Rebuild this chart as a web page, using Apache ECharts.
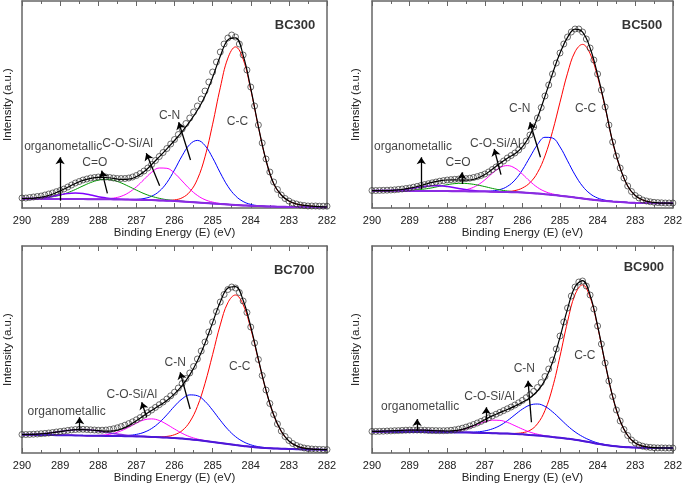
<!DOCTYPE html>
<html><head><meta charset="utf-8">
<script src="https://cdn.jsdelivr.net/npm/echarts/dist/echarts.min.js"></script>
<style>html,body{margin:0;padding:0;background:#fff}#c{width:685px;height:488px}</style>
</head><body><div id="c"></div>
<script>
// ---------------- DATA ----------------
const energyFit = [290.0,289.8,289.6,289.4,289.2,289.0,288.8,288.6,288.4,288.2,288.0,287.8,287.6,287.4,287.2,287.0,286.8,286.6,286.4,286.2,286.0,285.8,285.6,285.4,285.2,285.0,284.8,284.6,284.4,284.2,284.0,283.8,283.6,283.4,283.2,283.0,282.8,282.6,282.4,282.2,282.0];
const energyMeas = [290.0,289.9,289.8,289.7,289.6,289.5,289.4,289.3,289.2,289.1,289.0,288.9,288.8,288.7,288.6,288.5,288.4,288.3,288.2,288.1,288.0,287.9,287.8,287.7,287.6,287.5,287.4,287.3,287.2,287.1,287.0,286.9,286.8,286.7,286.6,286.5,286.4,286.3,286.2,286.1,286.0,285.9,285.8,285.7,285.6,285.5,285.4,285.3,285.2,285.1,285.0,284.9,284.8,284.7,284.6,284.5,284.4,284.3,284.2,284.1,284.0,283.9,283.8,283.7,283.6,283.5,283.4,283.3,283.2,283.1,283.0,282.9,282.8,282.7,282.6,282.5,282.4,282.3,282.2,282.1,282.0];
const panelTitles = ['BC300','BC500','BC700','BC900'];

// BC300
const p1Meas = [10,10,10.5,11,11.5,12,13,14,15,16.3,17.5,19,21,23,25,26.5,28,29,30,30.5,31,31,31,30.5,30,29.5,29.5,29.5,30,31,32.5,34.5,37,40,43.5,47.5,51.5,55.5,59.5,64,68.5,73.5,79,84.5,90,96,102,109,117,126,136,146,156,164,170,173,171,164,153,138,121,102,83,65,49,36,26,18.5,13,9.5,7,5,4,3,2.5,2,2,2,1.8,1.8,1.8];
const p1Env = [9.5,9.6,10.3,11.5,13.8,17.0,20.8,24.5,27.6,29.6,30.6,30.5,29.6,28.6,28.8,31.2,36.2,43.4,51.2,59.2,67.5,76.4,86.4,97.7,111.8,130.7,151.7,168.1,170.2,152.8,119.7,81.5,47.8,24.5,13,7,4,2.6,1.8,1.3,1.0];
const p1Base = [9.3,9.2,9.2,9.1,9.1,9.0,9.0,8.9,8.9,8.8,8.7,8.7,8.6,8.5,8.4,8.3,8.1,7.9,7.6,7.3,7.0,6.6,6.1,5.6,5.1,4.6,4.1,3.6,3.1,2.6,2.2,1.9,1.6,1.4,1.2,1.1,1.0,0.9,0.9,0.8,0.8];
const p1CC = [9.3,9.2,9.2,9.1,9.1,9.0,9.0,8.9,8.9,8.8,8.7,8.7,8.6,8.5,8.4,8.3,8.1,7.9,7.7,7.6,8.1,10.2,16.1,28.7,51.2,83.8,120.2,149.9,161.1,148.9,118.3,81.1,47.7,24.5,13,7,4,2.6,1.8,1.3,1.0];
const p1CN = [9.3,9.2,9.2,9.1,9.1,9.0,9.0,8.9,8.9,8.8,8.7,8.7,8.6,8.5,8.5,8.7,9.5,11.8,16.7,25.4,38.1,52.2,63.5,67.6,62.5,50.2,35.2,21.7,12.2,6.5,3.6,2.3,1.7,1.4,1.2,1.1,1.0,0.9,0.9,0.8,0.8];
const p1COSi = [9.3,9.2,9.2,9.1,9.1,9.0,9.0,8.9,8.9,8.8,8.8,9.1,9.9,11.7,15.4,21.2,28.5,35.7,40.0,39.7,34.8,27.0,19.0,12.6,8.3,5.9,4.5,3.7,3.1,2.6,2.2,1.9,1.6,1.4,1.2,1.1,1.0,0.9,0.9,0.8,0.8];
const p1CO = [9.4,9.4,9.7,10.1,11.2,12.8,15.3,18.5,22.1,25.4,27.8,28.7,27.7,25.1,21.6,17.9,14.4,11.7,9.7,8.3,7.5,6.8,6.2,5.6,5.1,4.6,4.1,3.6,3.1,2.6,2.2,1.9,1.6,1.4,1.2,1.1,1.0,0.9,0.9,0.8,0.8];
const p1Org = [9.4,9.4,9.8,10.5,11.7,13.2,14.5,14.9,14.4,13.0,11.3,10.1,9.2,8.7,8.5,8.3,8.1,7.9,7.6,7.3,7.0,6.6,6.1,5.6,5.1,4.6,4.1,3.6,3.1,2.6,2.2,1.9,1.6,1.4,1.2,1.1,1.0,0.9,0.9,0.8,0.8];

// BC500
const p2Meas = [17.5,17.5,17.6,17.7,17.8,18,18.2,18.6,19,19.5,20,20.8,21.6,22.5,23.4,24.3,25.2,26,26.8,27.4,28,28.4,28.7,28.9,29.1,29.4,29.8,30.5,31.4,32.6,34,36,38.5,41,44,47,50,52.5,55,58,62,67,73,81,90,100.5,112,123,134,145,155,164,171,176,179,179,176,169,160,148,134,118,101,83,66,52,40,30,22,16.5,12.5,10,8,7,6.2,5.7,5.4,5.2,5,5,5];
const p2Env = [17.3,17.4,17.4,17.8,18.5,19.8,21.5,23.6,25.6,27.2,28.0,28.1,27.9,28.0,29.7,33.4,38.8,44.6,49.8,54.3,61.2,72.8,90.2,111.7,134.3,154.9,170.6,178.8,175.8,160.0,133.4,101.3,66.2,40,22,12.5,8,6,5.2,4.9,4.7];
const p2Base = [17.3,17.3,17.2,17.2,17.1,17.1,17.0,17.0,16.9,16.9,16.9,16.8,16.7,16.6,16.6,16.5,16.3,16.1,15.9,15.7,15.5,15.1,14.5,13.8,13.1,12.3,11.4,10.5,9.6,8.6,7.7,7.0,6.4,5.9,5.5,5.2,5.0,4.9,4.8,4.7,4.7];
const p2CC = [17.3,17.3,17.2,17.2,17.1,17.1,17.0,17.0,16.9,16.9,16.9,16.8,16.7,16.6,16.6,16.5,16.3,16.1,16.5,17.4,20.0,25.3,35.3,52.1,76.4,105.8,134.8,156.2,163.6,154.3,131.1,100.5,66,40,22,12.5,8,6,5.2,4.9,4.7];
const p2CN = [17.3,17.3,17.2,17.2,17.1,17.1,17.0,17.0,16.9,16.9,16.9,16.8,16.7,16.6,16.7,16.7,17.1,18.4,21.6,27.9,38.1,50.9,63.3,70.7,70.0,61.1,47.2,33.1,21.8,14.3,10.0,7.8,6.6,5.9,5.5,5.2,5.0,4.9,4.8,4.7,4.7];
const p2COSi = [17.3,17.3,17.2,17.2,17.1,17.1,17.0,17.0,16.9,16.9,16.9,17.1,17.7,19.3,22.7,28.1,34.7,40.3,42.4,39.9,33.9,26.7,20.6,16.5,14.1,12.6,11.4,10.5,9.6,8.6,7.7,7.0,6.4,5.9,5.5,5.2,5.0,4.9,4.8,4.7,4.7];
const p2CO = [17.3,17.3,17.2,17.3,17.3,17.6,18.1,19.0,20.2,21.8,23.3,24.4,24.7,24.2,23.0,21.4,19.6,18.1,17.0,16.2,15.7,15.2,14.5,13.8,13.1,12.3,11.4,10.5,9.6,8.6,7.7,7.0,6.4,5.9,5.5,5.2,5.0,4.9,4.8,4.7,4.7];
const p2Org = [17.3,17.4,17.4,17.7,18.3,19.3,20.4,21.6,22.3,22.3,21.5,20.2,18.9,17.8,17.1,16.7,16.3,16.1,15.9,15.7,15.5,15.1,14.5,13.8,13.1,12.3,11.4,10.5,9.6,8.6,7.7,7.0,6.4,5.9,5.5,5.2,5.0,4.9,4.8,4.7,4.7];

// BC700
const p3Meas = [18.5,18.5,18.6,18.8,19,19.3,19.6,20,20.5,21,21.5,22,22.6,23.1,23.5,23.7,23.7,23.5,23.2,23,22.8,22.8,23,23.5,24.2,25.2,26.4,27.8,29.4,31.2,33.2,35.4,37.8,40.3,43,45.6,48.3,51,54,57.2,60.8,65,69.5,74.5,80,86.5,94,102,111,121,131,141.5,151,158.5,163.5,166,165,160.5,152,140.5,126,110,93.5,77.5,63,49.5,38.5,29,22,16.5,12.5,9.5,7.5,6,5,4.4,4,3.8,3.6,3.5,3.4];
const p3Env = [18.5,18.6,18.9,19.5,20.4,21.4,22.5,23.3,23.4,23.0,22.4,21.8,22.1,24.0,27.4,32.2,37.6,42.6,47.5,52.6,59.1,67.4,78.1,92.0,109.7,130.4,150.9,164.9,166.4,152.7,126.3,93.8,62.9,38.2,21.7,12.0,7.1,4.8,3.9,3.5,3.3];
const p3Base = [18.3,18.2,18.1,18.0,17.9,17.8,17.7,17.6,17.4,17.3,17.2,17.1,17.0,16.9,16.8,16.6,16.4,16.1,15.8,15.4,15.0,14.4,13.7,12.9,12.0,11.0,10.0,9.0,8.0,7.1,6.2,5.5,5.0,4.6,4.3,4.0,3.8,3.6,3.5,3.4,3.3];
const p3CC = [18.3,18.2,18.1,18.0,17.9,17.8,17.7,17.6,17.4,17.3,17.2,17.1,17.0,16.9,16.8,16.6,16.4,16.1,16.2,16.6,18.3,22.4,31.1,46.5,69.6,98.5,128.1,150.3,158.0,148.4,124.3,93.0,62.6,38.2,21.7,12.0,7.1,4.8,3.9,3.5,3.3];
const p3CN = [18.3,18.2,18.1,18.0,17.9,17.8,17.7,17.6,17.4,17.3,17.2,17.1,17.0,17.2,17.6,18.6,20.7,24.5,30.4,38.2,46.8,54.1,58.1,57.3,51.7,42.8,32.8,23.6,16.4,11.4,8.2,6.3,5.3,4.6,4.3,4.0,3.8,3.6,3.5,3.4,3.3];
const p3COSi = [18.3,18.2,18.1,18.0,17.9,17.8,17.7,17.6,17.4,17.3,17.6,18.2,19.6,22.2,25.8,29.8,33.1,34.1,32.5,28.6,24.0,19.7,16.3,14.0,12.4,11.1,10.0,9.0,8.0,7.1,6.2,5.5,5.0,4.6,4.3,4.0,3.8,3.6,3.5,3.4,3.3];
const p3Org = [18.5,18.6,18.9,19.5,20.4,21.4,22.5,23.3,23.4,23.0,22.0,20.7,19.5,18.4,17.6,17.0,16.6,16.1,15.8,15.4,15.0,14.4,13.7,12.9,12.0,11.0,10.0,9.0,8.0,7.1,6.2,5.5,5.0,4.6,4.3,4.0,3.8,3.6,3.5,3.4,3.3];

// BC900
const p4Meas = [21.6,21.6,21.7,21.8,22,22.1,22.3,22.4,22.6,22.8,22.9,23,23,22.9,22.8,22.6,22.5,22.4,22.3,22.3,22.4,22.7,23.2,23.9,24.8,25.9,27.1,28.5,30,31.6,33.3,35.1,37,38.8,40.6,42.4,44.2,46,48,50.2,52.6,55.3,58.3,61.6,65.5,70.5,76.5,84,93,104,117,131,145,157,166,171,172,167,158,144,127,109,90,72,56.5,43,32,23.5,17.5,13,10,8,6.8,6,5.6,5.3,5.1,5.1,5,5,5];
const p4Env = [21.6,21.7,22.0,22.3,22.6,22.9,22.9,22.8,22.4,22.2,22.0,22.4,23.7,26.1,29.3,33.3,37.1,40.4,43.5,46.9,50.7,55.2,62.0,72.8,90.7,115.9,144.2,166.2,172.4,157.9,127.1,90.0,56.4,32.0,17.5,9.9,6.8,5.6,5.1,5.0,5.0];
const p4Base = [21.3,21.2,21.2,21.1,21.0,21.0,20.9,20.9,20.8,20.8,20.7,20.6,20.5,20.4,20.2,20.0,19.8,19.6,19.4,19.1,18.7,18.1,17.5,16.8,16.0,15.2,14.3,13.3,12.1,10.7,9.2,8.0,7.0,6.3,5.8,5.4,5.2,5.1,5.0,5.0,5.0];
const p4CC = [21.3,21.2,21.2,21.1,21.0,21.0,20.9,20.9,20.8,20.8,20.7,20.6,20.5,20.4,20.2,20.0,19.8,19.6,19.4,19.6,20.3,22.6,29.2,42.5,65.3,96.8,131.3,158.4,168.1,155.8,126.2,89.6,56.3,32.0,17.5,9.9,6.8,5.6,5.1,5.0,5.0];
const p4CN = [21.3,21.2,21.2,21.1,21.0,21.0,20.9,20.9,20.8,20.8,20.7,20.6,20.6,20.8,21.1,22.1,24.1,27.4,32.3,38.2,43.9,47.9,49.0,46.6,41.2,34.3,27.2,21.1,16.4,12.8,10.1,8.4,7.1,6.3,5.8,5.4,5.2,5.1,5.0,5.0,5.0];
const p4COSi = [21.3,21.2,21.2,21.1,21.0,21.0,20.9,20.9,20.8,21.0,21.2,21.9,23.3,25.6,28.4,31.2,32.8,32.6,30.6,27.3,23.9,20.9,18.8,17.3,16.2,15.2,14.3,13.3,12.1,10.7,9.2,8.0,7.0,6.3,5.8,5.4,5.2,5.1,5.0,5.0,5.0];
const p4Org = [21.6,21.7,22.0,22.3,22.6,22.9,22.9,22.8,22.4,22.0,21.5,21.1,20.8,20.5,20.2,20.0,19.8,19.6,19.4,19.1,18.7,18.1,17.5,16.8,16.0,15.2,14.3,13.3,12.1,10.7,9.2,8.0,7.0,6.3,5.8,5.4,5.2,5.1,5.0,5.0,5.0];

// annotation labels: [text, E, intensity] and arrows [E1, I1, E2, I2]
const p1Labels = [['organometallic',288.92,61.7],['C=O',288.09,45.7],['C-O-Si/Al',287.23,64.7],['C-N',286.13,92.3],['C-C',284.35,86.3]];
const p1Arrows = [[289.0,7.3,289.0,50.7],[287.76,14.7,287.91,37.3],[286.39,22.3,286.74,54.7],[285.58,48,285.89,85.7]];
const p2Labels = [['organometallic',288.91,61.7],['C=O',287.71,45],['C-O-Si/Al',286.72,64.7],['C-N',286.07,99],['C-C',284.32,99]];
const p2Arrows = [[288.69,19,288.69,50.7],[287.61,24,287.61,35.7],[286.57,33.3,286.75,59],[285.52,50.7,285.8,85.7]];
const p3Labels = [['organometallic',288.83,41.7],['C-O-Si/Al',287.12,58.3],['C-N',285.98,90],['C-C',284.29,86.3]];
const p3Arrows = [[288.49,22.3,288.49,35.7],[286.73,35.7,286.86,50.7],[285.59,44,285.85,80.7]];
const p4Labels = [['organometallic',288.72,46.7],['C-O-Si/Al',286.87,56.3],['C-N',285.95,84],['C-C',284.34,97.3]];
const p4Arrows = [[288.8,22.3,288.8,34],[286.96,30.7,286.96,45.7],[285.76,30.7,285.85,72.3]];
const titlePos = [[282.84,182.3],[282.82,182.3],[282.86,182.3],[282.77,185.7]];

// ---------------- CHART ----------------
const FONT = '"Liberation Sans", Arial, sans-serif';
const FRAME = '#666';
const gridPos = [{left:22,top:1},{left:372,top:1},{left:22,top:246},{left:372,top:246}];
const baseColors = ['#8a2be2','#8a2be2','#4b18d8','#4b18d8'];
const orgColors = ['#8000ff','#8000ff','#8a2be2','#8a2be2'];
const panels = [
  {meas:p1Meas, env:p1Env, base:p1Base, cc:p1CC, cn:p1CN, cosi:p1COSi, co:p1CO, org:p1Org, labels:p1Labels, arrows:p1Arrows},
  {meas:p2Meas, env:p2Env, base:p2Base, cc:p2CC, cn:p2CN, cosi:p2COSi, co:p2CO, org:p2Org, labels:p2Labels, arrows:p2Arrows},
  {meas:p3Meas, env:p3Env, base:p3Base, cc:p3CC, cn:p3CN, cosi:p3COSi, co:null, org:p3Org, labels:p3Labels, arrows:p3Arrows},
  {meas:p4Meas, env:p4Env, base:p4Base, cc:p4CC, cn:p4CN, cosi:p4COSi, co:null, org:p4Org, labels:p4Labels, arrows:p4Arrows}
];
function pairs(xs, ys){ return ys.map((y,i)=>[xs[i], y]); }

const option = {animation:false, backgroundColor:'#fff', grid:[], xAxis:[], yAxis:[], series:[]};
const frameLine = {show:true, onZero:false, lineStyle:{color:FRAME, width:1.5}};
panels.forEach((p,k)=>{
  const g = gridPos[k];
  option.grid.push({left:g.left, top:g.top, width:305, height:207});
  option.xAxis.push({type:'value', gridIndex:k, min:282, max:290, interval:1, inverse:true, position:'bottom',
    axisLine:frameLine, axisTick:{inside:true, length:5, lineStyle:{color:FRAME}},
    minorTick:{show:true, splitNumber:2, length:3, lineStyle:{color:FRAME}},
    axisLabel:{fontSize:11, color:'#222', margin:7, fontFamily:FONT}, splitLine:{show:false}, minorSplitLine:{show:false},
    name:'Binding Energy (E) (eV)', nameLocation:'middle', nameGap:19,
    nameTextStyle:{fontSize:11.5, color:'#222', fontFamily:FONT}});
  option.xAxis.push({type:'value', gridIndex:k, min:282, max:290, interval:1, inverse:true, position:'top',
    axisLine:frameLine, axisTick:{inside:true, length:5, lineStyle:{color:FRAME}},
    minorTick:{show:true, splitNumber:2, length:3, lineStyle:{color:FRAME}},
    axisLabel:{show:false}, splitLine:{show:false}});
  option.yAxis.push({type:'value', gridIndex:k, min:0, max:207, position:'left',
    axisLine:frameLine, axisTick:{show:false}, axisLabel:{show:false}, splitLine:{show:false},
    name:'Intensity (a.u.)', nameLocation:'middle', nameGap:(k%2 ? 10 : 8),
    nameTextStyle:{fontSize:11.5, color:'#222', fontFamily:FONT}});
  option.yAxis.push({type:'value', gridIndex:k, min:0, max:207, position:'right',
    axisLine:frameLine, axisTick:{show:false}, axisLabel:{show:false}, splitLine:{show:false}});
  const xi = 2*k, yi = 2*k;
  const line = (name, ys, color, width, z) => ({name, type:'line', xAxisIndex:xi, yAxisIndex:yi,
    data:pairs(energyFit, ys), showSymbol:false, smooth:0.4, silent:true, z:z||2,
    lineStyle:{color, width:width||1}});
  option.series.push(line('C-C', p.cc, '#ff0000', 1));
  option.series.push(line('C-N', p.cn, '#0000ff', 1));
  option.series.push(line('C-O-Si/Al', p.cosi, '#ff00ff', 1));
  if (p.co) option.series.push(line('C=O', p.co, '#009900', 1));
  option.series.push(line('organometallic', p.org, orgColors[k], 1.5));
  option.series.push(line('baseline', p.base, baseColors[k], 2));
  option.series.push({name:'measured', type:'scatter', xAxisIndex:xi, yAxisIndex:yi, silent:true, z:3,
    data:pairs(energyMeas, p.meas), symbol:'circle', symbolSize:6,
    itemStyle:{color:'rgba(0,0,0,0)', borderColor:'#333', borderWidth:0.9}});
  option.series.push(line('envelope', p.env, '#000', 1.2, 4));
  const labelData = p.labels.map(l=>({name:l[0], value:[l[1], l[2]]}));
  labelData.push({name:panelTitles[k], value:titlePos[k],
    label:{fontWeight:'bold', fontSize:13, color:'#000'}});
  option.series.push({name:'labels', type:'scatter', xAxisIndex:xi, yAxisIndex:yi, silent:true, z:5,
    symbolSize:1, itemStyle:{color:'rgba(0,0,0,0)'}, data:labelData,
    label:{show:true, position:'inside', formatter:'{b}', fontSize:12, color:'#111', fontFamily:FONT},
    markLine:{silent:true, symbol:['none','arrow'], symbolSize:7, label:{show:false},
      lineStyle:{color:'#000', width:1.3, type:'solid'},
      data:p.arrows.map(a=>[{coord:[a[0],a[1]]},{coord:[a[2],a[3]]}])}});
});
const chart = echarts.init(document.getElementById('c'), null, {renderer:'canvas'});
chart.setOption(option);
</script>
</body></html>
